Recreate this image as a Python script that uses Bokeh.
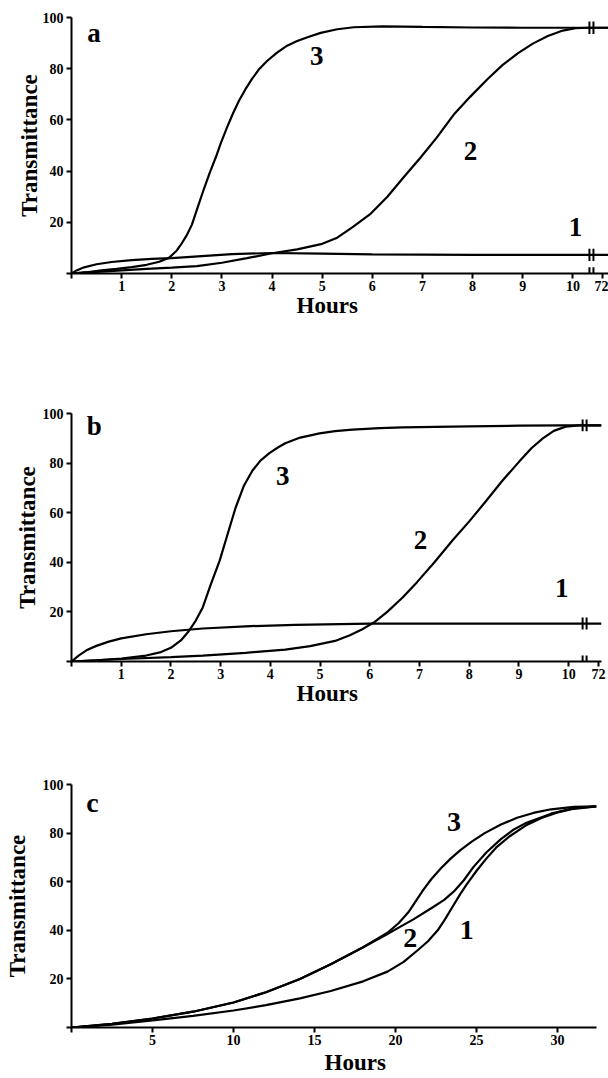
from bokeh.plotting import figure
from bokeh.layouts import column
from bokeh.models import Range1d, FixedTicker, Title
from bokeh.core.properties import value
from bokeh.embed import file_html
from bokeh.resources import INLINE

# ---------------- data ----------------
# Panel a
a1_x = [0, 0.1, 0.25, 0.5, 0.8, 1.2, 1.6, 2.0, 2.6, 3.2, 4.0, 5.0, 6.0, 8.0, 10.0, 10.75]
a1_y = [0, 1.2, 2.4, 3.6, 4.5, 5.2, 5.7, 6.0, 6.8, 7.6, 8.0, 7.8, 7.5, 7.3, 7.3, 7.3]
a2_x = [0, 0.5, 1.0, 1.5, 2.0, 2.5, 3.0, 3.5, 4.0, 4.5, 5.0, 5.3, 5.6, 5.97, 6.3, 6.62,
        6.95, 7.28, 7.62, 7.95, 8.3, 8.6, 8.9, 9.2, 9.5, 9.8, 10.05, 10.3, 10.75]
a2_y = [0, 0.6, 1.2, 1.8, 2.3, 2.9, 4.2, 6.0, 7.9, 9.4, 11.6, 14.0, 18.0, 23.4, 30.0, 37.5,
        45.0, 53.0, 62.0, 69.0, 76.0, 81.5, 86.0, 89.8, 92.8, 94.9, 95.8, 96.0, 96.0]
a3_x = [0, 0.3, 0.6, 0.9, 1.2, 1.5, 1.75, 1.95, 2.1, 2.2, 2.3, 2.4, 2.52, 2.64, 2.76, 2.88,
        2.98, 3.1, 3.22, 3.34, 3.47, 3.6, 3.75, 3.9, 4.1, 4.3, 4.5, 4.75, 4.97, 5.3, 5.63,
        6.2, 7.0, 8.0, 9.0, 10.0, 10.75]
a3_y = [0, 0.5, 1.2, 1.8, 2.5, 3.4, 4.6, 6.2, 9.0, 11.8, 15.0, 19.0, 26.0, 33.0, 39.5, 45.5,
        51.0, 57.0, 62.5, 67.5, 72.0, 76.0, 80.0, 83.0, 86.3, 89.0, 90.8, 92.6, 94.0, 95.4, 96.2,
        96.5, 96.3, 96.1, 96.0, 96.0, 96.0]

# Panel b
b1_x = [0, 0.15, 0.3, 0.5, 0.75, 1.0, 1.5, 2.0, 2.64, 3.5, 4.5, 6.0, 8.0, 10.0, 10.66]
b1_y = [0, 2.5, 4.5, 6.3, 8.0, 9.3, 11.0, 12.2, 13.3, 14.2, 14.8, 15.3, 15.3, 15.3, 15.3]
b2_x = [0, 1.0, 2.0, 2.64, 3.5, 4.3, 4.8, 5.3, 5.6, 5.85, 6.1, 6.35, 6.66, 6.95, 7.3, 7.67,
        8.0, 8.35, 8.67, 9.0, 9.25, 9.48, 9.7, 9.94, 10.2, 10.66]
b2_y = [0, 1.0, 1.8, 2.4, 3.5, 4.8, 6.2, 8.3, 10.6, 13.0, 16.0, 20.0, 25.8, 32.0, 40.0, 49.0,
        56.5, 65.0, 73.0, 80.5, 86.0, 90.0, 93.0, 94.7, 95.2, 95.2]
b3_x = [0, 0.5, 1.0, 1.5, 1.8, 2.0, 2.2, 2.35, 2.5, 2.64, 2.8, 2.98, 3.15, 3.3, 3.47, 3.64,
        3.8, 3.98, 4.15, 4.3, 4.6, 4.99, 5.3, 5.65, 6.2, 6.66, 8.0, 9.0, 9.9, 10.66]
b3_y = [0, 0.5, 1.2, 2.4, 3.8, 5.5, 8.5, 12.0, 16.5, 21.8, 31.0, 40.7, 52.0, 62.0, 71.0, 77.0,
        81.0, 84.0, 86.3, 88.0, 90.3, 92.0, 92.9, 93.5, 94.1, 94.4, 94.8, 95.1, 95.2, 95.2]

# Panel c
c1_x = [0, 2.5, 5, 7.5, 10, 12, 14.1, 16, 18, 19.5, 20.5, 21.4, 22.0, 22.6, 23.0, 23.5,
        24.0, 24.4, 25.0, 25.6, 26.2, 27.0, 28.0, 29.0, 30, 31, 32.4]
c1_y = [0, 1.2, 2.9, 4.8, 7, 9.2, 12, 15, 19, 23, 27, 32, 35.5, 40, 44, 49.5,
        55, 59, 64.5, 69.5, 74, 78.5, 83, 86.2, 88.5, 90, 91]
c2_x = [0, 2.5, 5, 7.5, 10, 12, 14.1, 16, 18, 19.5, 20.3, 21.1, 22.3, 23.0, 23.6, 24.2,
        24.8, 25.6, 26.5, 27.3, 28, 29.6, 31, 32.4]
c2_y = [0, 1.5, 3.7, 6.5, 10.3, 14.5, 20, 26, 33, 38.5, 41.5, 44.5, 49.5, 52.5, 56, 60.5,
        66, 72, 77.5, 81.5, 84, 88, 90.3, 91]
c3_x = [0, 2.5, 5, 7.5, 10, 12, 14.1, 16, 18, 19.5, 20.2, 20.8, 21.3, 21.7, 22.2, 22.8,
        23.4, 24, 24.7, 25.5, 26.5, 27.5, 28.5, 29.6, 31, 32.4]
c3_y = [0, 1.5, 3.7, 6.5, 10.3, 14.5, 20, 26, 33, 39, 43, 47.5, 52.5, 56.5, 61, 65.5,
        69.5, 73, 76.5, 80, 83.5, 86.3, 88.3, 89.8, 90.8, 91]

# ticks
y_ticks = [0, 20, 40, 60, 80, 100]
y_tick_labels = ["", "20", "40", "60", "80", "100"]
ab_x_ticks = [0, 1, 2, 3, 4, 5, 6, 7, 8, 9, 10, 10.6]
ab_x_tick_labels = ["", "1", "2", "3", "4", "5", "6", "7", "8", "9", "10", "72"]
c_x_ticks = [0, 5, 10, 15, 20, 25, 30]
c_x_tick_labels = ["", "5", "10", "15", "20", "25", "30"]

# axis breaks (hours position on the broken axis)
break_a = 10.37
break_b = 10.32

# in-plot labels
a_lab_text = ["a", "3", "2", "1"]
a_lab_x = [0.45, 4.89, 7.96, 10.05]
a_lab_y = [93.8, 85, 48, 18]
b_lab_text = ["b", "3", "2", "1"]
b_lab_x = [0.46, 4.25, 7.02, 9.86]
b_lab_y = [95, 75, 48.8, 29.8]
c_lab_text = ["c", "3", "2", "1"]
c_lab_x = [1.3, 23.6, 20.9, 24.4]
c_lab_y = [92.6, 84.4, 37, 40]

FONT = "Liberation Serif"


def make_panel(frame_w, frame_h, xmax, borders, x_ticks, x_labels, series, labels,
               hours_shift, hours_standoff, ylabel_standoff):
    left, right, top, bottom = borders
    p = figure(frame_width=frame_w, frame_height=frame_h, output_backend="svg",
               toolbar_location=None,
               x_range=Range1d(0, xmax), y_range=Range1d(0, 100),
               min_border_left=left, min_border_right=right,
               min_border_top=top, min_border_bottom=bottom,
               background_fill_color="white", border_fill_color="white")
    p.outline_line_color = None
    p.grid.visible = False
    for ax in (p.xaxis[0], p.yaxis[0]):
        ax.axis_line_width = 2
        ax.axis_line_color = "black"
        ax.major_tick_line_width = 2
        ax.major_tick_in = 0
        ax.major_tick_out = 5
        ax.minor_tick_line_color = None
        ax.major_label_text_font = FONT
        ax.major_label_text_font_style = "bold"
        ax.major_label_text_font_size = "14px"
        ax.major_label_text_color = "black"
        ax.axis_label_text_font = FONT
        ax.axis_label_text_font_style = "bold"
        ax.axis_label_text_font_size = "23px"
        ax.axis_label_text_color = "black"
    p.xaxis.ticker = FixedTicker(ticks=x_ticks)
    p.xaxis.major_label_overrides = {t: l for t, l in zip(x_ticks, x_labels)}
    p.xaxis.major_label_standoff = 2
    p.yaxis.ticker = FixedTicker(ticks=y_ticks)
    p.yaxis.major_label_overrides = {t: l for t, l in zip(y_ticks, y_tick_labels)}
    p.yaxis.major_label_standoff = 3
    p.yaxis.axis_label = "Transmittance"
    p.yaxis.axis_label_standoff = ylabel_standoff

    p.add_layout(Title(text="Hours", align="left", offset=hours_shift,
                       standoff=hours_standoff, text_font=FONT, text_font_style="bold",
                       text_font_size="23px", text_color="black"), "below")

    for xs, ys in series:
        p.line(xs, ys, line_color="black", line_width=2.2)

    tx, ty, tt, size = labels
    p.text(x=tx, y=ty, text=tt, text_font=value(FONT), text_font_style="bold",
           text_font_size=value(size), text_align="center", text_baseline="middle",
           text_color="black")
    return p


# borders: (left, right, top, bottom)
pa = make_panel(539, 256, 10.75, (68, 1, 17, 122), ab_x_ticks, ab_x_tick_labels,
                [(a1_x, a1_y), (a2_x, a2_y), (a3_x, a3_y)],
                (a_lab_x, a_lab_y, a_lab_text, "27px"), 225, -6, -2)
pb = make_panel(530, 248, 10.66, (69, 9, 18, 109), ab_x_ticks, ab_x_tick_labels,
                [(b1_x, b1_y), (b2_x, b2_y), (b3_x, b3_y)],
                (b_lab_x, b_lab_y, b_lab_text, "27px"), 225, -5, 0)
pc = make_panel(525, 243, 32.4, (71, 12, 14, 51), c_x_ticks, c_x_tick_labels,
                [(c1_x, c1_y), (c2_x, c2_y), (c3_x, c3_y)],
                (c_lab_x, c_lab_y, c_lab_text, "28px"), 253, 0, 10)


def add_breaks(p, bx, levels, gap, half):
    x0 = []
    y0 = []
    y1 = []
    for lv in levels:
        for dx in (-gap / 2, gap / 2):
            x0.append(bx + dx)
            y0.append(lv - half)
            y1.append(lv + half)
    p.segment(x0=x0, y0=y0, x1=x0, y1=y1, line_color="black", line_width=2)


add_breaks(pa, break_a, [a3_y[-1], a1_y[-1], 0], 0.08, 2.4)
add_breaks(pb, break_b, [b3_y[-1], b1_y[-1], 0], 0.08, 2.4)

layout = column(pa, pb, pc, spacing=0)
open("out.html", "w").write(file_html(layout, INLINE))
